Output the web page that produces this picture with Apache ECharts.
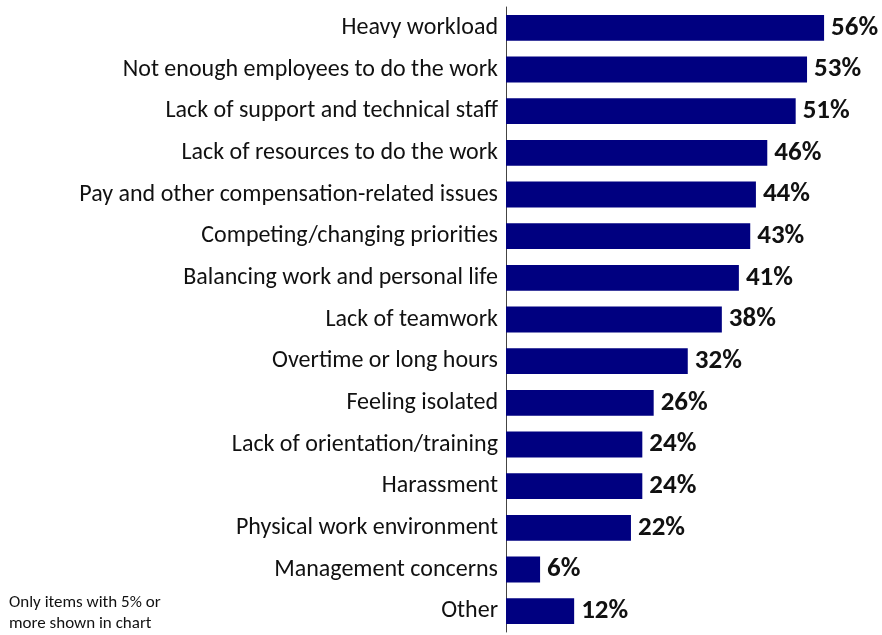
<!DOCTYPE html>
<html><head><meta charset="utf-8">
<script src="https://cdn.jsdelivr.net/npm/echarts@6/dist/echarts.min.js"></script>
<style>html,body{margin:0;padding:0;background:#fff}#c{width:882px;height:635px}</style>
</head><body><div id="c"></div>
<script>
const categories = ["Heavy workload","Not enough employees to do the work","Lack of support and technical staff","Lack of resources to do the work","Pay and other compensation-related issues","Competing/changing priorities","Balancing work and personal life","Lack of teamwork","Overtime or long hours","Feeling isolated","Lack of orientation/training","Harassment","Physical work environment","Management concerns","Other"];
const values = [56,53,51,46,44,43,41,38,32,26,24,24,22,6,12];
const note = "Only items with 5% or\nmore shown in chart";

const FF = 'Carlito, "Open Sans", sans-serif';
const chart = echarts.init(document.getElementById('c'), null, {renderer:'canvas'});
chart.setOption({
  animation:false,
  grid:{left:506, top:7, width:340.8, height:625, containLabel:false},
  xAxis:{type:'value', min:0, max:60, show:false},
  yAxis:{type:'category', data:categories, inverse:true,
    axisLine:{show:true, lineStyle:{color:'#444', width:1}},
    axisTick:{show:false},
    axisLabel:{color:'#111', fontSize:24, fontFamily:FF, margin:8}},
  graphic:[{type:'text', left:9, top:592, style:{text:note, fontSize:17, lineHeight:21, fill:'#111', fontFamily:FF}}],
  series:[{type:'bar', data:values, barCategoryGap:'38%', itemStyle:{color:'#000080'},
    label:{show:true, position:'right', distance:7, formatter:'{c}%', fontSize:27, fontWeight:'bold', color:'#111', fontFamily:FF}}]
});
</script></body></html>
